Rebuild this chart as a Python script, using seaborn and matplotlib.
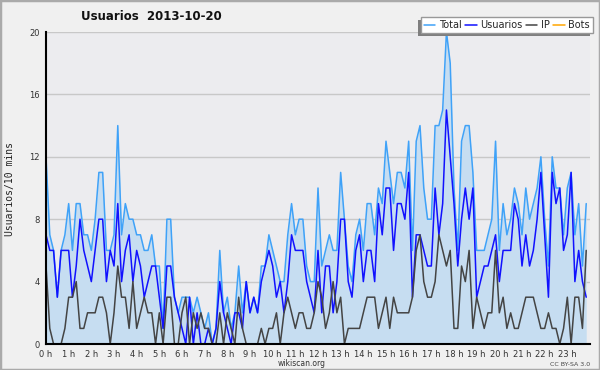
import numpy as np
import pandas as pd
import seaborn as sns
import matplotlib.pyplot as plt
from matplotlib.patches import Rectangle
from matplotlib.ticker import MultipleLocator

# 10-minute samples, 2013-10-20
total = [12, 7, 6, 3, 6, 7, 9, 6, 9, 9, 7, 7, 6, 8, 11, 11, 6, 6, 7, 14, 7, 9, 8, 8,
         7, 7, 6, 6, 7, 5, 5, 1, 8, 8, 3, 2, 3, 3, 3, 2, 3, 2, 1, 2, 0, 1, 6, 2,
         3, 1, 2, 5, 2, 4, 2, 3, 2, 5, 5, 7, 6, 5, 4, 4, 7, 9, 7, 8, 8, 5, 4, 4,
         10, 5, 6, 7, 6, 6, 11, 8, 5, 4, 7, 8, 6, 9, 9, 7, 10, 9, 13, 11, 9, 11, 11, 10,
         13, 6, 13, 14, 10, 8, 8, 14, 14, 15, 20, 18, 10, 6, 13, 14, 14, 11, 6, 6, 6, 7, 8, 13,
         6, 9, 7, 8, 10, 9, 7, 10, 8, 9, 10, 12, 8, 5, 12, 10, 10, 7, 10, 11, 7, 9, 5, 9]
usuarios = [7, 6, 6, 3, 6, 6, 6, 3, 5, 8, 6, 5, 4, 6, 8, 8, 4, 6, 5, 9, 4, 6, 7, 4,
            6, 5, 3, 4, 5, 5, 3, 1, 5, 5, 3, 2, 1, 0, 3, 0, 2, 0, 0, 1, 0, 1, 4, 2,
            1, 0, 2, 2, 1, 4, 2, 3, 2, 4, 5, 6, 5, 3, 4, 2, 4, 7, 6, 6, 6, 4, 3, 2,
            6, 2, 5, 5, 2, 4, 8, 8, 4, 3, 6, 7, 4, 6, 6, 4, 9, 7, 10, 10, 6, 9, 9, 8,
            11, 3, 7, 7, 6, 5, 5, 10, 7, 9, 15, 12, 9, 5, 8, 10, 8, 10, 3, 4, 5, 5, 6, 7,
            4, 6, 6, 6, 9, 8, 5, 7, 5, 6, 8, 11, 7, 3, 11, 9, 10, 6, 7, 11, 4, 6, 4, 3]
ip = [5, 1, 0, 0, 0, 1, 3, 3, 4, 1, 1, 2, 2, 2, 3, 3, 2, 0, 2, 5, 3, 3, 1, 4,
      1, 2, 3, 2, 2, 0, 2, 0, 3, 3, 0, 0, 2, 3, 0, 2, 1, 2, 1, 1, 0, 0, 2, 0,
      2, 1, 0, 3, 1, 0, 0, 0, 0, 1, 0, 1, 1, 2, 0, 2, 3, 2, 1, 2, 2, 1, 1, 2,
      4, 3, 1, 2, 4, 2, 3, 0, 1, 1, 1, 1, 2, 3, 3, 3, 1, 2, 3, 1, 3, 2, 2, 2,
      2, 3, 6, 7, 4, 3, 3, 4, 7, 6, 5, 6, 1, 1, 5, 4, 6, 1, 3, 2, 1, 2, 2, 6,
      2, 3, 1, 2, 1, 1, 2, 3, 3, 3, 2, 1, 1, 2, 1, 1, 0, 1, 3, 0, 3, 3, 1, 6]
bots = [0] * 144

hour_labels = [f"{h} h" for h in range(24)]

df = pd.DataFrame({"t": np.arange(len(total)) / 6, "Total": total,
                   "Usuarios": usuarios, "IP": ip, "Bots": bots})

sns.set_style("white")
plt.rcParams['font.family'] = ['DejaVu Sans']

fig = plt.figure(figsize=(6, 3.7), dpi=100, facecolor='#f0f0f0')
ax = fig.add_axes([46 / 600, 26 / 370, 544 / 600, 312 / 370])
ax.set_facecolor('#ececef')

ax.fill_between(df.t, df.Total, color='#c6ddf1', lw=0, zorder=1)
sns.lineplot(data=df, x='t', y='Total', color='#3fa2f8', lw=1.1, ax=ax, label='Total', zorder=3)
sns.lineplot(data=df, x='t', y='Usuarios', color='#1111ff', lw=1.1, ax=ax, label='Usuarios', zorder=4)
sns.lineplot(data=df, x='t', y='IP', color='#444444', lw=1.1, ax=ax, label='IP', zorder=4)
sns.lineplot(data=df, x='t', y='Bots', color='#ffa500', lw=1.1, ax=ax, label='Bots', zorder=2)

ax.set_xlim(0, 24)
ax.set_ylim(0, 20)
ax.set_xlabel('')
ax.set_ylabel('')

ax.set_xticks(range(24))
ax.set_xticklabels(hour_labels)
ax.xaxis.set_minor_locator(MultipleLocator(1 / 6))
ax.yaxis.set_major_locator(MultipleLocator(4))
ax.yaxis.set_minor_locator(MultipleLocator(1))
ax.tick_params(axis='both', which='major', direction='out', length=4, width=1,
               labelsize=6, colors='#111111', labelcolor='#333333', pad=0.5)
ax.tick_params(axis='x', which='major', pad=0)
ax.tick_params(axis='both', which='minor', direction='out', length=2.5, width=1, colors='#111111')
ax.grid(axis='y', which='major', color='#c8c8c8', lw=1)
ax.set_axisbelow(True)

for s in ['top', 'right']:
    ax.spines[s].set_visible(False)
for s in ['left', 'bottom']:
    ax.spines[s].set_color('black')
    ax.spines[s].set_linewidth(1.5)
    ax.spines[s].set_zorder(5)

handles, labels = ax.get_legend_handles_labels()
ax.legend_.remove()
leg = fig.legend(handles, labels, loc='upper right', bbox_to_anchor=(593 / 600, 1 - 17 / 370),
                 ncol=4, fontsize=7, frameon=True, fancybox=False, edgecolor='#999999',
                 facecolor='white', framealpha=1, borderpad=0.3, handlelength=1.2,
                 handletextpad=0.4, columnspacing=0.3, borderaxespad=0)
leg.get_frame().set_linewidth(1)
leg.set_zorder(10)

fig.text(151 / 600, 1 - 17 / 370, 'Usuarios  2013-10-20', ha='center', va='center',
         fontsize=8.5, fontweight='bold', color='#111111')
fig.text(10 / 600, 1 - 189 / 370, 'Usuarios/10 mins', ha='center', va='center', rotation=90,
         family='DejaVu Sans Mono', fontsize=7, color='#222222')
fig.text(302 / 600, 1 - 364 / 370, 'wikiscan.org', ha='center', va='center',
         fontsize=5.5, color='#333333')
fig.text(590 / 600, 1 - 364 / 370, 'CC BY-SA 3.0', ha='right', va='center',
         fontsize=4.5, color='#444444')
fig.patches.append(Rectangle((0, 0), 1, 1, transform=fig.transFigure, fill=False,
                             ec='#aaaaaa', lw=2.5, zorder=0))

# legend drop shadow, offset towards lower left
fig.canvas.draw()
bb = leg.get_window_extent()
W, H = fig.bbox.width, fig.bbox.height
fig.patches.append(Rectangle(((bb.x0 - 3) / W, (bb.y0 - 3) / H), bb.width / W, bb.height / H,
                             transform=fig.transFigure, fc='#7f7f7f', ec='none', zorder=9))

fig.savefig('out.png', dpi=100, facecolor=fig.get_facecolor())
